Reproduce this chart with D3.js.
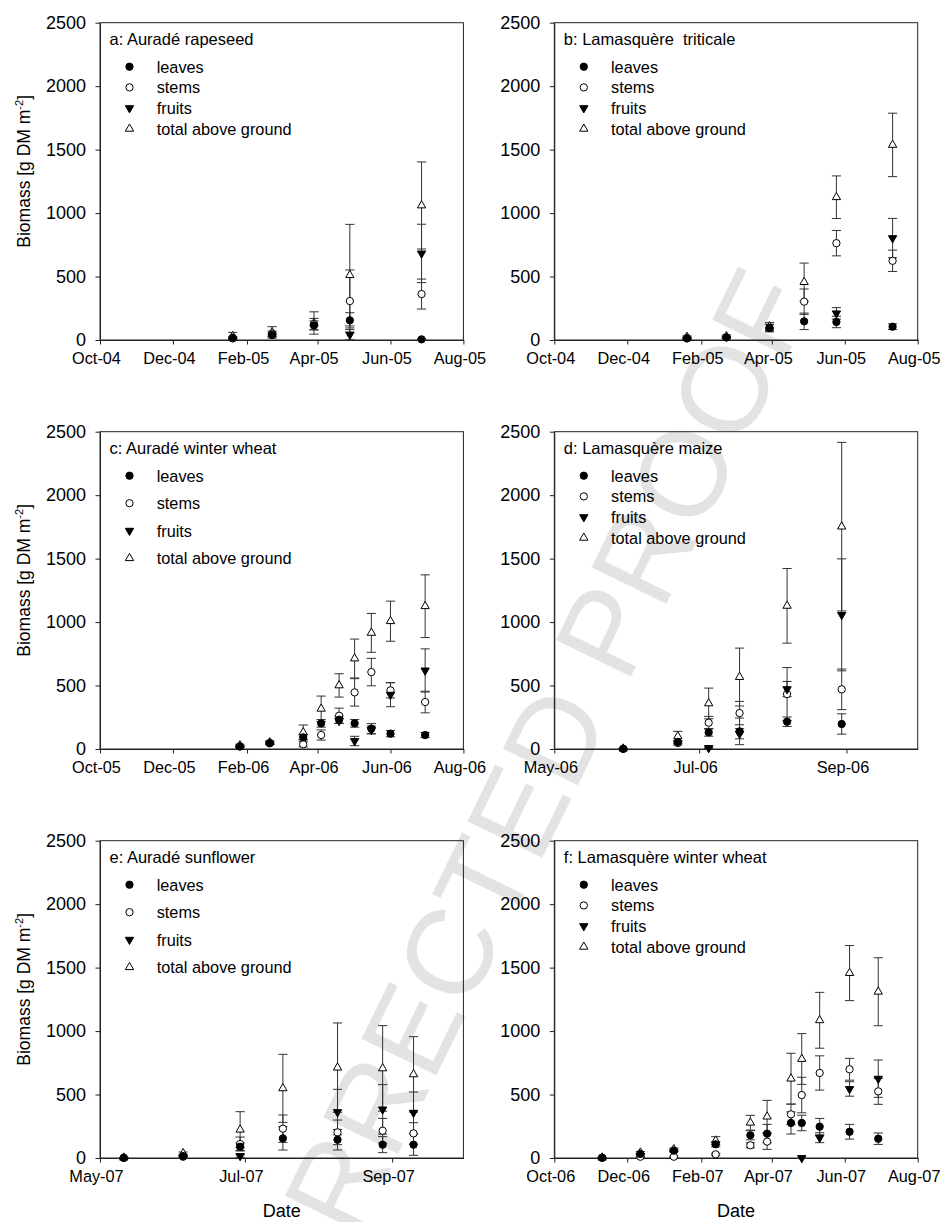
<!DOCTYPE html>
<html>
<head>
<meta charset="utf-8">
<script src="https://cdn.jsdelivr.net/npm/d3@7"></script>
<style>
  body { margin: 0; background: #fff; }
  text { font-family: "Liberation Sans", Arial, sans-serif; fill: #000; white-space: pre; }
</style>
</head>
<body>
<div id="chart"></div>
<script>
// ---- data ----
// a: Auradé rapeseed
var datesA = ["2005-01-20", "2005-02-22", "2005-03-29", "2005-04-28", "2005-06-27"];
var leavesA = [18, 40, 115, 155, 5];
var leavesErrA = [8, 15, 35, 60, 5];
var stemsA = [12, 50, 125, 307, 362];
var stemsErrA = [6, 20, 45, 245, 118];
var fruitsA = [null, null, null, 42, 682];
var fruitsErrA = [null, null, null, 40, 230];
var totalA = [30, 60, 134, 511, 1060];
var totalErrA = [30, 45, 88, 400, 343];

// b: Lamasquère triticale
var datesB = ["2005-01-20", "2005-02-22", "2005-03-30", "2005-04-28", "2005-05-25", "2005-07-11"];
var leavesB = [12, 20, 95, 147, 142, 105];
var leavesErrB = [5, 8, 25, 65, 45, 22];
var stemsB = [16, 21, 94, 302, 763, 624];
var stemsErrB = [6, 8, 30, 100, 100, 84];
var fruitsB = [null, null, null, null, 210, 803];
var fruitsErrB = [null, null, null, null, 45, 155];
var totalB = [24, 29, 107, 456, 1125, 1537];
var totalErrB = [8, 10, 30, 150, 168, 250];

// c: Auradé winter wheat
var datesC = ["2006-01-26", "2006-02-20", "2006-03-20", "2006-04-04", "2006-04-19", "2006-05-02", "2006-05-16", "2006-06-01", "2006-06-30"];
var leavesC = [20, 45, 92, 202, 231, 202, 160, 121, 110];
var leavesErrC = [5, 8, 20, 30, 30, 30, 40, 25, 20];
var stemsC = [20, 48, 37, 110, 262, 446, 606, 462, 370];
var stemsErrC = [5, 10, 20, 40, 60, 108, 108, 60, 85];
var fruitsC = [null, null, null, null, 222, 63, 150, 428, 619];
var fruitsErrC = [null, null, null, null, 20, 37, 30, 95, 170];
var totalC = [28, 52, 131, 317, 501, 713, 915, 1007, 1125];
var totalErrC = [10, 12, 58, 100, 92, 153, 153, 158, 247];

// d: Lamasquère maize
var datesD = ["2006-05-30", "2006-06-22", "2006-07-05", "2006-07-18", "2006-08-07", "2006-08-30"];
var leavesD = [1, 55, 131, 139, 215, 197];
var leavesErrD = [1, 10, 30, 105, 37, 80];
var stemsD = [2, 47, 207, 283, 433, 470];
var stemsErrD = [1, 15, 50, 92, 209, 160];
var fruitsD = [null, null, 8, 120, 472, 1057];
var fruitsErrD = [null, null, 5, 40, 60, 441];
var totalD = [3, 100, 359, 567, 1128, 1752];
var totalErrD = [2, 39, 121, 228, 294, 664];

// e: Auradé sunflower
var datesE = ["2007-05-11", "2007-06-05", "2007-06-29", "2007-07-17", "2007-08-09", "2007-08-28", "2007-09-10"];
var leavesE = [1, 15, 89, 155, 144, 105, 105];
var leavesErrE = [1, 5, 30, 92, 81, 63, 84];
var stemsE = [2, 10, 110, 231, 202, 215, 194];
var stemsErrE = [1, 5, 55, 108, 97, 97, 84];
var fruitsE = [null, null, 16, null, 362, 383, 357];
var fruitsErrE = [null, null, 10, null, 179, 195, 163];
var totalE = [3, 37, 223, 549, 712, 706, 659];
var totalErrE = [2, 10, 142, 268, 352, 337, 297];

// f: Lamasquère winter wheat
var datesF = ["2006-11-10", "2006-12-12", "2007-01-09", "2007-02-13", "2007-03-14", "2007-03-28", "2007-04-17", "2007-04-26", "2007-05-11", "2007-06-05", "2007-06-29"];
var leavesF = [2, 32, 58, 108, 179, 192, 276, 276, 247, 207, 152];
var leavesErrF = [1, 5, 10, 20, 36, 73, 87, 61, 65, 58, 45];
var stemsF = [2, 10, 10, 29, 100, 129, 344, 496, 670, 699, 525];
var stemsErrF = [1, 3, 5, 8, 20, 61, 80, 140, 135, 86, 102];
var fruitsF = [null, null, null, null, null, null, null, 0, 160, 544, 625];
var fruitsErrF = [null, null, null, null, null, null, null, 0, 39, 57, 147];
var totalF = [3, 42, 68, 137, 278, 326, 625, 780, 1085, 1457, 1310];
var totalErrF = [2, 8, 10, 31, 58, 128, 200, 200, 220, 217, 268];

var panelTitles = ["a: Auradé rapeseed", "b: Lamasquère  triticale", "c: Auradé winter wheat",
    "d: Lamasquère maize", "e: Auradé sunflower", "f: Lamasquère winter wheat"];
var seriesNames = ["leaves", "stems", "fruits", "total above ground"];

// x axis domains and tick labels
var domainA = ["2004-10-01", "2005-08-01"];
var ticksA = ["2004-10-01", "2004-12-01", "2005-02-01", "2005-04-01", "2005-06-01", "2005-08-01"];
var domainC = ["2005-10-01", "2006-08-01"];
var ticksC = ["2005-10-01", "2005-12-01", "2006-02-01", "2006-04-01", "2006-06-01", "2006-08-01"];
var domainD = ["2006-05-01", "2006-10-01"];
var ticksD = ["2006-05-01", "2006-07-01", "2006-09-01"];
var domainE = ["2007-05-01", "2007-10-01"];
var ticksE = ["2007-05-01", "2007-07-01", "2007-09-01"];
var domainF = ["2006-10-01", "2007-08-01"];
var ticksF = ["2006-10-01", "2006-12-01", "2007-02-01", "2007-04-01", "2007-06-01", "2007-08-01"];
var yTicks = [0, 500, 1000, 1500, 2000, 2500];

var panels = [
    {dates: datesA, domain: domainA, ticks: ticksA, vals: [leavesA, stemsA, fruitsA, totalA], errs: [leavesErrA, stemsErrA, fruitsErrA, totalErrA]},
    {dates: datesB, domain: domainA, ticks: ticksA, vals: [leavesB, stemsB, fruitsB, totalB], errs: [leavesErrB, stemsErrB, fruitsErrB, totalErrB]},
    {dates: datesC, domain: domainC, ticks: ticksC, vals: [leavesC, stemsC, fruitsC, totalC], errs: [leavesErrC, stemsErrC, fruitsErrC, totalErrC]},
    {dates: datesD, domain: domainD, ticks: ticksD, vals: [leavesD, stemsD, fruitsD, totalD], errs: [leavesErrD, stemsErrD, fruitsErrD, totalErrD]},
    {dates: datesE, domain: domainE, ticks: ticksE, vals: [leavesE, stemsE, fruitsE, totalE], errs: [leavesErrE, stemsErrE, fruitsErrE, totalErrE]},
    {dates: datesF, domain: domainF, ticks: ticksF, vals: [leavesF, stemsF, fruitsF, totalF], errs: [leavesErrF, stemsErrF, fruitsErrF, totalErrF]}
];

// ---- layout ----
var width = 940;
var height = 1222;
var plotW = 363.4;
var plotH = 317.3;
var lefts = [100, 554.3];
var tops = [22.7, 431.7, 840.7];
var legendGap = [20.7, 20.7, 27.5, 20.7, 27.5, 20.7];
var axisColor = "#222";

var parseDate = d3.utcParse("%Y-%m-%d");
var fmt = d3.utcFormat("%b-%y");

var svg = d3.select("#chart")
    .append("svg")
    .attr("width", width)
    .attr("height", height);

// proof watermark behind everything
svg.append("text")
    .attr("transform", "translate(468,911) rotate(-64)")
    .attr("text-anchor", "middle")
    .attr("dy", "0.36em")
    .style("font-size", "121px")
    .style("fill", "#e3e3e3")
    .text("UNCORRECTED PROOF");

// marker styles per series
var symLeaves = d3.symbol().type(d3.symbolCircle).size(42);
var symStems = d3.symbol().type(d3.symbolCircle).size(42);
var symFruits = d3.symbol().type(d3.symbolTriangle).size(30);
var symTotal = d3.symbol().type(d3.symbolTriangle).size(30);
var styles = [
    {sym: symLeaves, fill: "#000", rot: 0},
    {sym: symStems, fill: "#fff", rot: 0},
    {sym: symFruits, fill: "#000", rot: 180},
    {sym: symTotal, fill: "#fff", rot: 0}
];
var drawOrder = [3, 1, 2, 0];

panels.forEach(function (p, i) {
    var col = i % 2;
    var row = Math.floor(i / 2);
    var g = svg.append("g")
        .attr("transform", "translate(" + lefts[col] + "," + tops[row] + ")");

    var x = d3.scaleUtc()
        .domain(p.domain.map(parseDate))
        .range([0, plotW]);
    var y = d3.scaleLinear()
        .domain([0, 2500])
        .range([plotH, 0]);

    var xAxis = d3.axisBottom(x)
        .tickValues(p.ticks.map(parseDate))
        .tickFormat(fmt)
        .tickSizeInner(4.5)
        .tickSizeOuter(0)
        .tickPadding(7.5);
    var yAxis = d3.axisLeft(y)
        .tickValues(yTicks)
        .tickFormat(d3.format("d"))
        .tickSizeInner(4.5)
        .tickSizeOuter(0)
        .tickPadding(9.5);

    var gx = g.append("g")
        .attr("class", "x axis")
        .attr("transform", "translate(0," + plotH + ")")
        .call(xAxis);
    gx.selectAll("text")
        .attr("dx", -4)
        .style("font-size", "16.3px");
    var gy = g.append("g")
        .attr("class", "y axis")
        .call(yAxis);
    gy.selectAll("text").style("font-size", "18px");
    g.selectAll(".axis").attr("font-family", null);
    g.selectAll(".axis path, .axis line").attr("stroke", axisColor);

    // frame
    g.append("rect")
        .attr("width", plotW)
        .attr("height", plotH)
        .attr("fill", "none")
        .attr("stroke", axisColor)
        .attr("stroke-width", 1);

    // error bars
    var bars = g.append("g").attr("stroke", "#333").attr("stroke-width", 1);
    p.vals.forEach(function (vals, s) {
        vals.forEach(function (v, k) {
            var e = p.errs[s][k];
            if (v === null || !e) return;
            var cx = x(parseDate(p.dates[k]));
            var y1 = y(v + e);
            var y0 = y(Math.max(0, v - e));
            bars.append("line").attr("x1", cx).attr("x2", cx).attr("y1", y0).attr("y2", y1);
            bars.append("line").attr("x1", cx - 4.6).attr("x2", cx + 4.6).attr("y1", y1).attr("y2", y1);
            if (v - e > 0) {
                bars.append("line").attr("x1", cx - 4.6).attr("x2", cx + 4.6).attr("y1", y0).attr("y2", y0);
            }
        });
    });

    // markers
    drawOrder.forEach(function (s) {
        var st = styles[s];
        var pts = p.dates.map(function (d, k) { return {date: parseDate(d), v: p.vals[s][k]}; })
            .filter(function (d) { return d.v !== null; });
        g.append("g").selectAll("path")
            .data(pts)
            .join("path")
            .attr("d", st.sym())
            .attr("transform", function (d) {
                return "translate(" + x(d.date) + "," + y(d.v) + ") rotate(" + st.rot + ")";
            })
            .attr("fill", st.fill)
            .attr("stroke", "#000")
            .attr("stroke-width", 1);
    });

    // panel title + legend
    g.append("text")
        .attr("x", 9.5)
        .attr("y", 22.6)
        .style("font-size", "16.5px")
        .text(panelTitles[i]);

    var lg = g.selectAll(".legend")
        .data(seriesNames)
        .join("g")
        .attr("class", "legend")
        .attr("transform", function (d, k) { return "translate(29.5," + (44 + k * legendGap[i]) + ")"; });
    lg.append("path")
        .attr("d", function (d, k) { return styles[k].sym(); })
        .attr("transform", function (d, k) { return "rotate(" + styles[k].rot + ")"; })
        .attr("fill", function (d, k) { return styles[k].fill; })
        .attr("stroke", "#000")
        .attr("stroke-width", 1);
    lg.append("text")
        .attr("x", 27.2)
        .attr("y", 5.8)
        .style("font-size", "16.3px")
        .text(function (d) { return d; });

    // axis titles
    if (col === 0) {
        var yt = g.append("text")
            .attr("transform", "translate(-70," + (plotH / 2 - 10) + ") rotate(-90)")
            .attr("text-anchor", "middle")
            .style("font-size", "17.5px");
        yt.append("tspan").text("Biomass [g DM m");
        yt.append("tspan").attr("dy", -7).style("font-size", "11px").text("-2");
        yt.append("tspan").attr("dy", 7).text("]");
    }
    if (row === 2) {
        g.append("text")
            .attr("x", plotW / 2)
            .attr("y", height - tops[row] - 5)
            .attr("text-anchor", "middle")
            .style("font-size", "18px")
            .text("Date");
    }
});
</script>
</body>
</html>
